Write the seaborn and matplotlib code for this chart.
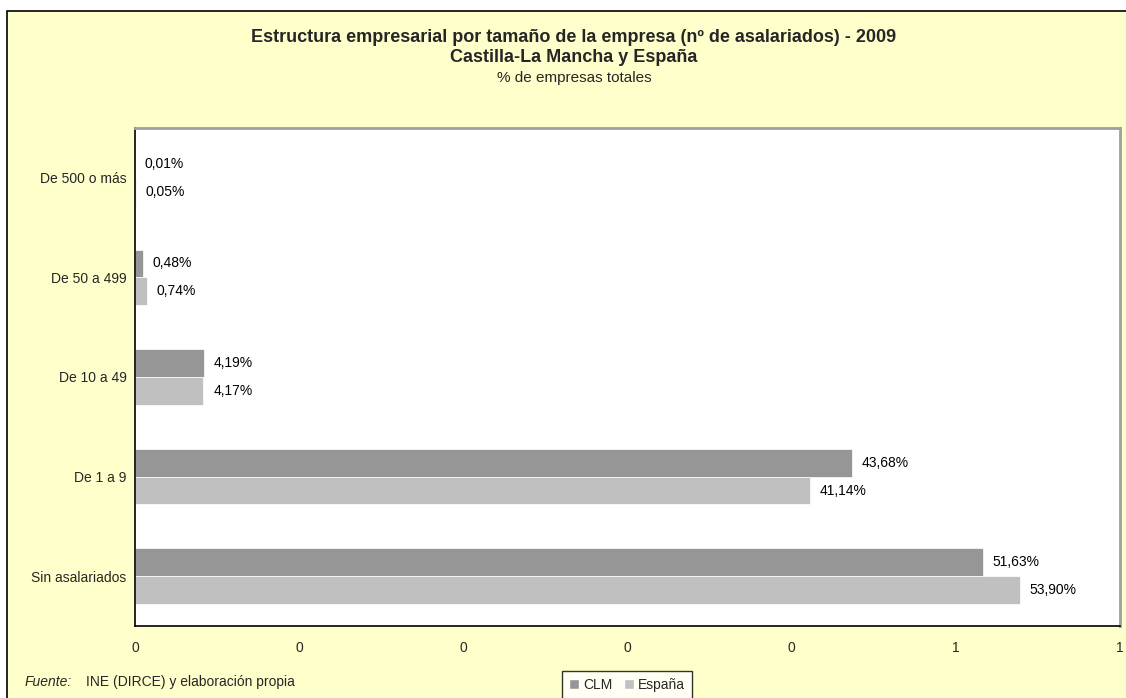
import matplotlib
matplotlib.use("Agg")
import matplotlib.pyplot as plt
from matplotlib.patches import Rectangle
from matplotlib.ticker import FixedLocator
import pandas as pd
import seaborn as sns

# datos (fracción de empresas totales)
categorias = ["De 500 o más", "De 50 a 499", "De 10 a 49", "De 1 a 9", "Sin asalariados"]
series = ["CLM", "España"]
valores_clm = [0.0001, 0.0048, 0.0419, 0.4368, 0.5163]
valores_esp = [0.0005, 0.0074, 0.0417, 0.4114, 0.5390]
xticks = [0, 0.1, 0.2, 0.3, 0.4, 0.5, 0.6]
xtick_labels = ["0", "0", "0", "0", "0", "1", "1"]
colores = ["#969696", "#C0C0C0"]

df = pd.DataFrame({
    "tamano": categorias * 2,
    "serie": [series[0]] * len(categorias) + [series[1]] * len(categorias),
    "valor": valores_clm + valores_esp,
})

sns.set_style("white")
plt.rcParams["font.family"] = ["Liberation Sans", "DejaVu Sans"]

W, H = 1126, 698
fig = plt.figure(figsize=(W / 100, H / 100), dpi=100, facecolor="white")

# fondo amarillo del área del gráfico con borde negro
fig.patches.append(Rectangle((7 / W, -0.01), 1.1, 1 - 10.7 / H + 0.01,
                             transform=fig.transFigure, facecolor="#FFFFCC",
                             edgecolor="black", linewidth=1.2, zorder=-10))

ax = fig.add_axes([135 / W, 1 - 626 / H, (1120 - 135) / W, (626 - 128) / H])
ax.set_zorder(1)
ax.set_facecolor("white")

sns.barplot(data=df, y="tamano", x="valor", hue="serie", orient="h",
            order=categorias, hue_order=series, palette=colores,
            width=0.56, gap=0, saturation=1, errorbar=None,
            edgecolor="white", linewidth=0.5, ax=ax)

# etiquetas de valor con coma decimal
for cont, vals in zip(ax.containers, [valores_clm, valores_esp]):
    etiquetas = [f"{v * 100:.2f}%".replace(".", ",") for v in vals]
    ax.bar_label(cont, labels=etiquetas, padding=7, fontsize=10, color="black")

ax.set_xlim(0, 0.6)
ax.set_ylim(4.5, -0.5)
ax.set_xticks(xticks)
ax.set_xticklabels(xtick_labels, fontsize=10)
ax.tick_params(axis="x", direction="out", length=5, width=1, color="black", pad=6)
ax.tick_params(axis="y", which="major", length=0, labelsize=10, pad=6)
ax.yaxis.set_minor_locator(FixedLocator([-0.5, 0.5, 1.5, 2.5, 3.5, 4.5]))
ax.tick_params(axis="y", which="minor", direction="out", length=5, width=1, color="black")
ax.set_xlabel("")
ax.set_ylabel("")

for lado in ["left", "bottom"]:
    ax.spines[lado].set_color("black")
    ax.spines[lado].set_linewidth(1.2)
for lado in ["top", "right"]:
    ax.spines[lado].set_color("#A0A0A0")
    ax.spines[lado].set_linewidth(2)

# títulos
cx = 574 / W
fig.text(cx, 1 - 38 / H, "Estructura empresarial por tamaño de la empresa (nº de asalariados) - 2009",
         ha="center", va="center", fontsize=13, fontweight="bold")
fig.text(cx, 1 - 58 / H, "Castilla-La Mancha y España",
         ha="center", va="center", fontsize=13, fontweight="bold")
fig.text(cx, 1 - 78 / H, "% de empresas totales",
         ha="center", va="center", fontsize=11)

# fuente
fig.text(25 / W, 1 - 682 / H, "Fuente:", ha="left", va="center", fontsize=10, style="italic")
fig.text(86 / W, 1 - 682 / H, "INE (DIRCE) y elaboración propia", ha="left", va="center", fontsize=10)

# leyenda
ax.legend_.remove()
handles = [Rectangle((0, 0), 1, 1, facecolor=c) for c in colores]
leg = fig.legend(handles, series, loc="upper center", bbox_to_anchor=(627 / W, 1 - 671 / H),
                 ncol=2, frameon=True, fancybox=False, fontsize=10,
                 handlelength=0.75, handleheight=0.75, handletextpad=0.3,
                 columnspacing=0.8, borderpad=0.5, borderaxespad=0)
leg.get_frame().set_edgecolor("black")
leg.get_frame().set_linewidth(1)
leg.get_frame().set_facecolor("white")

fig.savefig("out.png", dpi=100, facecolor=fig.get_facecolor())
